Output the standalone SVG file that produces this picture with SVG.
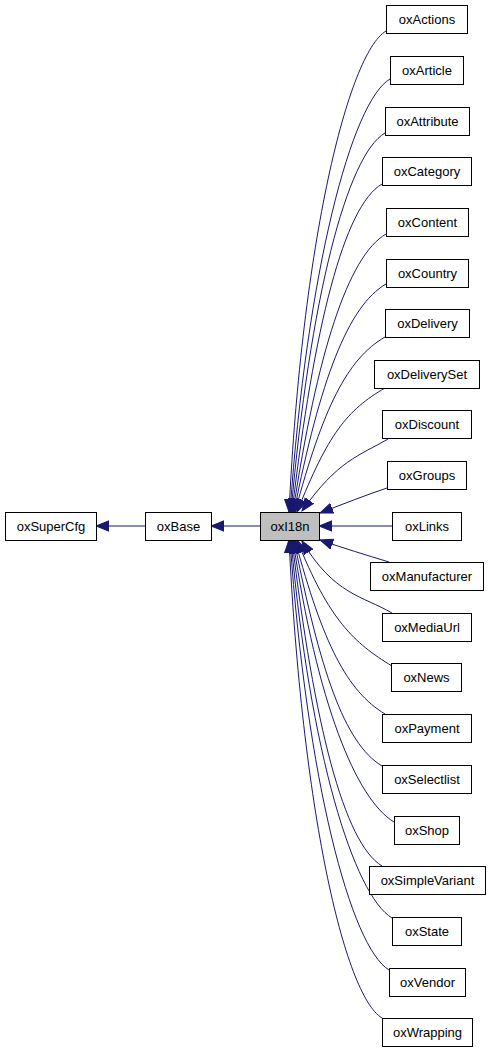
<svg xmlns="http://www.w3.org/2000/svg" width="491" height="1051" viewBox="0 0 491 1051">
<style>
.n rect{fill:#ffffff;stroke:#000000;stroke-width:1}
.n text{font-family:"Liberation Sans",Arial,sans-serif;font-size:13px;fill:#000000;text-anchor:middle}
#n_oxI18n rect{fill:#bfbfbf}
.e path{fill:none;stroke:#191970;stroke-width:1;marker-end:url(#ah)}
</style>
<defs>
<marker id="ah" markerUnits="userSpaceOnUse" markerWidth="14" markerHeight="12" refX="13" refY="6" orient="auto">
<path d="M0,0.8 L13,6 L0,11.2 Z" fill="#191970" stroke="#191970" stroke-width="1"/>
</marker>
</defs>
<rect width="491" height="1051" fill="#ffffff"/>
<g id="edges" class="e">
<path d="M260,526 L211,526"/>
<path d="M145,526 L96,526"/>
<path d="M386,31 C348,54 302,242 289,512"/>
<path d="M390,79 C352,101 307,269 290,512"/>
<path d="M385,133 C347,155 310,298 291,512"/>
<path d="M382,184 C344,206 314,326 292,512"/>
<path d="M386,234 C348,256 317,353 293,512"/>
<path d="M386,284 C348,306 320,380 294,512"/>
<path d="M385,337 C347,359 323,408 295,512"/>
<path d="M385,388 C347,410 328,434 297,512"/>
<path d="M388,439 C359,456 338,460 302,511"/>
<path d="M387,488 C366,495 343,504 320,513"/>
<path d="M392,526 L319,526"/>
<path d="M389,562 C366,555 343,548 320,540"/>
<path d="M392,613 C363,596 334,595 302,541"/>
<path d="M392,666 C354,643 329,620 297,540"/>
<path d="M385,714 C347,691 323,644 295,540"/>
<path d="M382,766 C344,743 320,670 294,540"/>
<path d="M394,822 C356,799 317,703 293,540"/>
<path d="M382,866 C344,843 314,725 292,540"/>
<path d="M392,918 C354,895 310,754 291,540"/>
<path d="M389,970 C351,947 307,782 290,540"/>
<path d="M382,1018 C344,995 302,808 289,540"/>
</g>
<g id="n_oxSuperCfg" class="n"><rect x="5.5" y="512.5" width="91" height="28"/><text x="51" y="531">oxSuperCfg</text></g>
<g id="n_oxBase" class="n"><rect x="145.5" y="512.5" width="66" height="28"/><text x="178.5" y="531">oxBase</text></g>
<g id="n_oxI18n" class="n"><rect x="260.5" y="512.5" width="59" height="28"/><text x="290" y="531">oxI18n</text></g>
<g id="n_oxActions" class="n"><rect x="386.5" y="5.5" width="81" height="28"/><text x="427" y="24">oxActions</text></g>
<g id="n_oxArticle" class="n"><rect x="390.5" y="56.5" width="73" height="28"/><text x="427" y="75">oxArticle</text></g>
<g id="n_oxAttribute" class="n"><rect x="385.5" y="107.5" width="84" height="28"/><text x="427.5" y="126">oxAttribute</text></g>
<g id="n_oxCategory" class="n"><rect x="382.5" y="157.5" width="89" height="28"/><text x="427" y="176">oxCategory</text></g>
<g id="n_oxContent" class="n"><rect x="386.5" y="208.5" width="82" height="28"/><text x="427.5" y="227">oxContent</text></g>
<g id="n_oxCountry" class="n"><rect x="386.5" y="259.5" width="82" height="28"/><text x="427.5" y="278">oxCountry</text></g>
<g id="n_oxDelivery" class="n"><rect x="385.5" y="309.5" width="84" height="28"/><text x="427.5" y="328">oxDelivery</text></g>
<g id="n_oxDeliverySet" class="n"><rect x="374.5" y="360.5" width="105" height="28"/><text x="427" y="379">oxDeliverySet</text></g>
<g id="n_oxDiscount" class="n"><rect x="382.5" y="410.5" width="89" height="28"/><text x="427" y="429">oxDiscount</text></g>
<g id="n_oxGroups" class="n"><rect x="387.5" y="461.5" width="79" height="28"/><text x="427" y="480">oxGroups</text></g>
<g id="n_oxLinks" class="n"><rect x="392.5" y="512.5" width="69" height="28"/><text x="427" y="531">oxLinks</text></g>
<g id="n_oxManufacturer" class="n"><rect x="370.5" y="562.5" width="113" height="28"/><text x="427" y="581">oxManufacturer</text></g>
<g id="n_oxMediaUrl" class="n"><rect x="382.5" y="613.5" width="89" height="28"/><text x="427" y="632">oxMediaUrl</text></g>
<g id="n_oxNews" class="n"><rect x="391.5" y="663.5" width="70" height="28"/><text x="426.5" y="682">oxNews</text></g>
<g id="n_oxPayment" class="n"><rect x="382.5" y="714.5" width="89" height="28"/><text x="427" y="733">oxPayment</text></g>
<g id="n_oxSelectlist" class="n"><rect x="382.5" y="765.5" width="89" height="28"/><text x="427" y="784">oxSelectlist</text></g>
<g id="n_oxShop" class="n"><rect x="394.5" y="816.5" width="65" height="28"/><text x="427" y="835">oxShop</text></g>
<g id="n_oxSimpleVariant" class="n"><rect x="369.5" y="866.5" width="116" height="28"/><text x="427.5" y="885">oxSimpleVariant</text></g>
<g id="n_oxState" class="n"><rect x="392.5" y="917.5" width="69" height="28"/><text x="427" y="936">oxState</text></g>
<g id="n_oxVendor" class="n"><rect x="389.5" y="968.5" width="76" height="28"/><text x="427.5" y="987">oxVendor</text></g>
<g id="n_oxWrapping" class="n"><rect x="382.5" y="1018.5" width="90" height="28"/><text x="427.5" y="1037">oxWrapping</text></g>
</svg>
